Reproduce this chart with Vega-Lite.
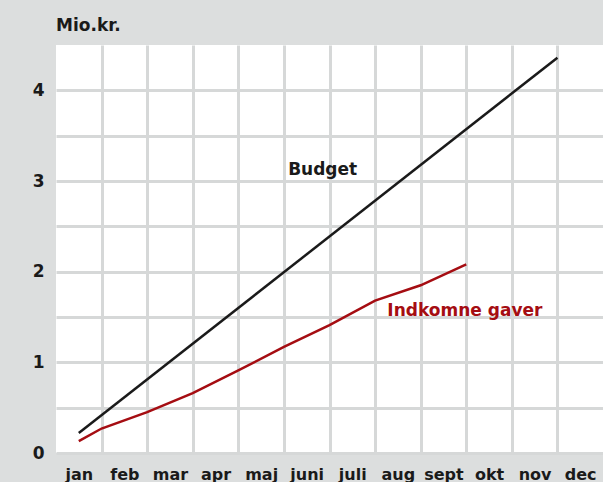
{
  "$schema": "https://vega.github.io/schema/vega-lite/v6.json",
  "width": 547,
  "height": 408,
  "autosize": "none",
  "padding": {"left": 56, "top": 45, "right": 0, "bottom": 29},
  "background": "#dcdede",
  "view": {"fill": "#ffffff", "stroke": null},
  "title": {
    "text": "Mio.kr.",
    "anchor": "start",
    "frame": "group",
    "font": "DejaVu Sans",
    "fontSize": 17,
    "fontWeight": "bold",
    "color": "#1a1a1a",
    "offset": 10
  },
  "config": {
    "font": "DejaVu Sans",
    "axis": {
      "gridColor": "#d6d8d8",
      "gridWidth": 3,
      "domain": false,
      "ticks": false,
      "title": null,
      "labelFont": "DejaVu Sans",
      "labelFontWeight": "bold",
      "labelColor": "#1a1a1a",
      "labelOverlap": false,
      "labelFlush": false
    }
  },
  "datasets": {
    "series": [
      {"serie": "Budget", "maaned": 0.5, "mio": 0.22},
      {"serie": "Budget", "maaned": 11, "mio": 4.36},
      {"serie": "Indkomne gaver", "maaned": 0.5, "mio": 0.13},
      {"serie": "Indkomne gaver", "maaned": 1, "mio": 0.27},
      {"serie": "Indkomne gaver", "maaned": 2, "mio": 0.45},
      {"serie": "Indkomne gaver", "maaned": 3, "mio": 0.66},
      {"serie": "Indkomne gaver", "maaned": 4, "mio": 0.91},
      {"serie": "Indkomne gaver", "maaned": 5, "mio": 1.17},
      {"serie": "Indkomne gaver", "maaned": 6, "mio": 1.41},
      {"serie": "Indkomne gaver", "maaned": 7, "mio": 1.68},
      {"serie": "Indkomne gaver", "maaned": 8, "mio": 1.85},
      {"serie": "Indkomne gaver", "maaned": 9, "mio": 2.08}
    ],
    "labels": [
      {"serie": "Budget", "maaned": 5.85, "mio": 3.12},
      {"serie": "Indkomne gaver", "maaned": 8.97, "mio": 1.57}
    ]
  },
  "resolve": {"axis": {"x": "independent"}},
  "layer": [
    {
      "data": {"name": "series"},
      "mark": {"type": "line", "strokeWidth": 2.5, "clip": false},
      "encoding": {
        "x": {
          "field": "maaned",
          "type": "quantitative",
          "scale": {"domain": [0, 12], "nice": false, "zero": false},
          "axis": {
            "orient": "bottom",
            "grid": true,
            "labels": false,
            "values": [1, 2, 3, 4, 5, 6, 7, 8, 9, 10, 11]
          }
        },
        "y": {
          "field": "mio",
          "type": "quantitative",
          "scale": {"domain": [0, 4.5], "nice": false},
          "axis": {
            "grid": true,
            "values": [0.5, 1, 1.5, 2, 2.5, 3, 3.5, 4, 0],
            "labelExpr": "datum.value % 1 == 0 ? datum.value : ''",
            "labelFontSize": 17,
            "labelPadding": 12,
            "labelBaseline": "middle"
          }
        },
        "color": {
          "field": "serie",
          "type": "nominal",
          "scale": {"domain": ["Budget", "Indkomne gaver"], "range": ["#1a1a1a", "#a50d12"]},
          "legend": null
        }
      }
    },
    {
      "data": {"name": "labels"},
      "mark": {"type": "text", "fontWeight": "bold", "fontSize": 17, "font": "DejaVu Sans"},
      "encoding": {
        "x": {
          "field": "maaned",
          "type": "quantitative",
          "axis": {
            "orient": "bottom",
            "grid": false,
            "values": [0.5, 1.5, 2.5, 3.5, 4.5, 5.5, 6.5, 7.5, 8.5, 9.5, 10.5, 11.5],
            "labelExpr": "['jan','feb','mar','apr','maj','juni','juli','aug','sept','okt','nov','dec'][floor(datum.value)]",
            "labelFontSize": 16,
            "labelPadding": 13
          }
        },
        "y": {"field": "mio", "type": "quantitative"},
        "text": {"field": "serie"},
        "color": {
          "field": "serie",
          "type": "nominal",
          "scale": {"domain": ["Budget", "Indkomne gaver"], "range": ["#1a1a1a", "#a50d12"]},
          "legend": null
        }
      }
    }
  ]
}
